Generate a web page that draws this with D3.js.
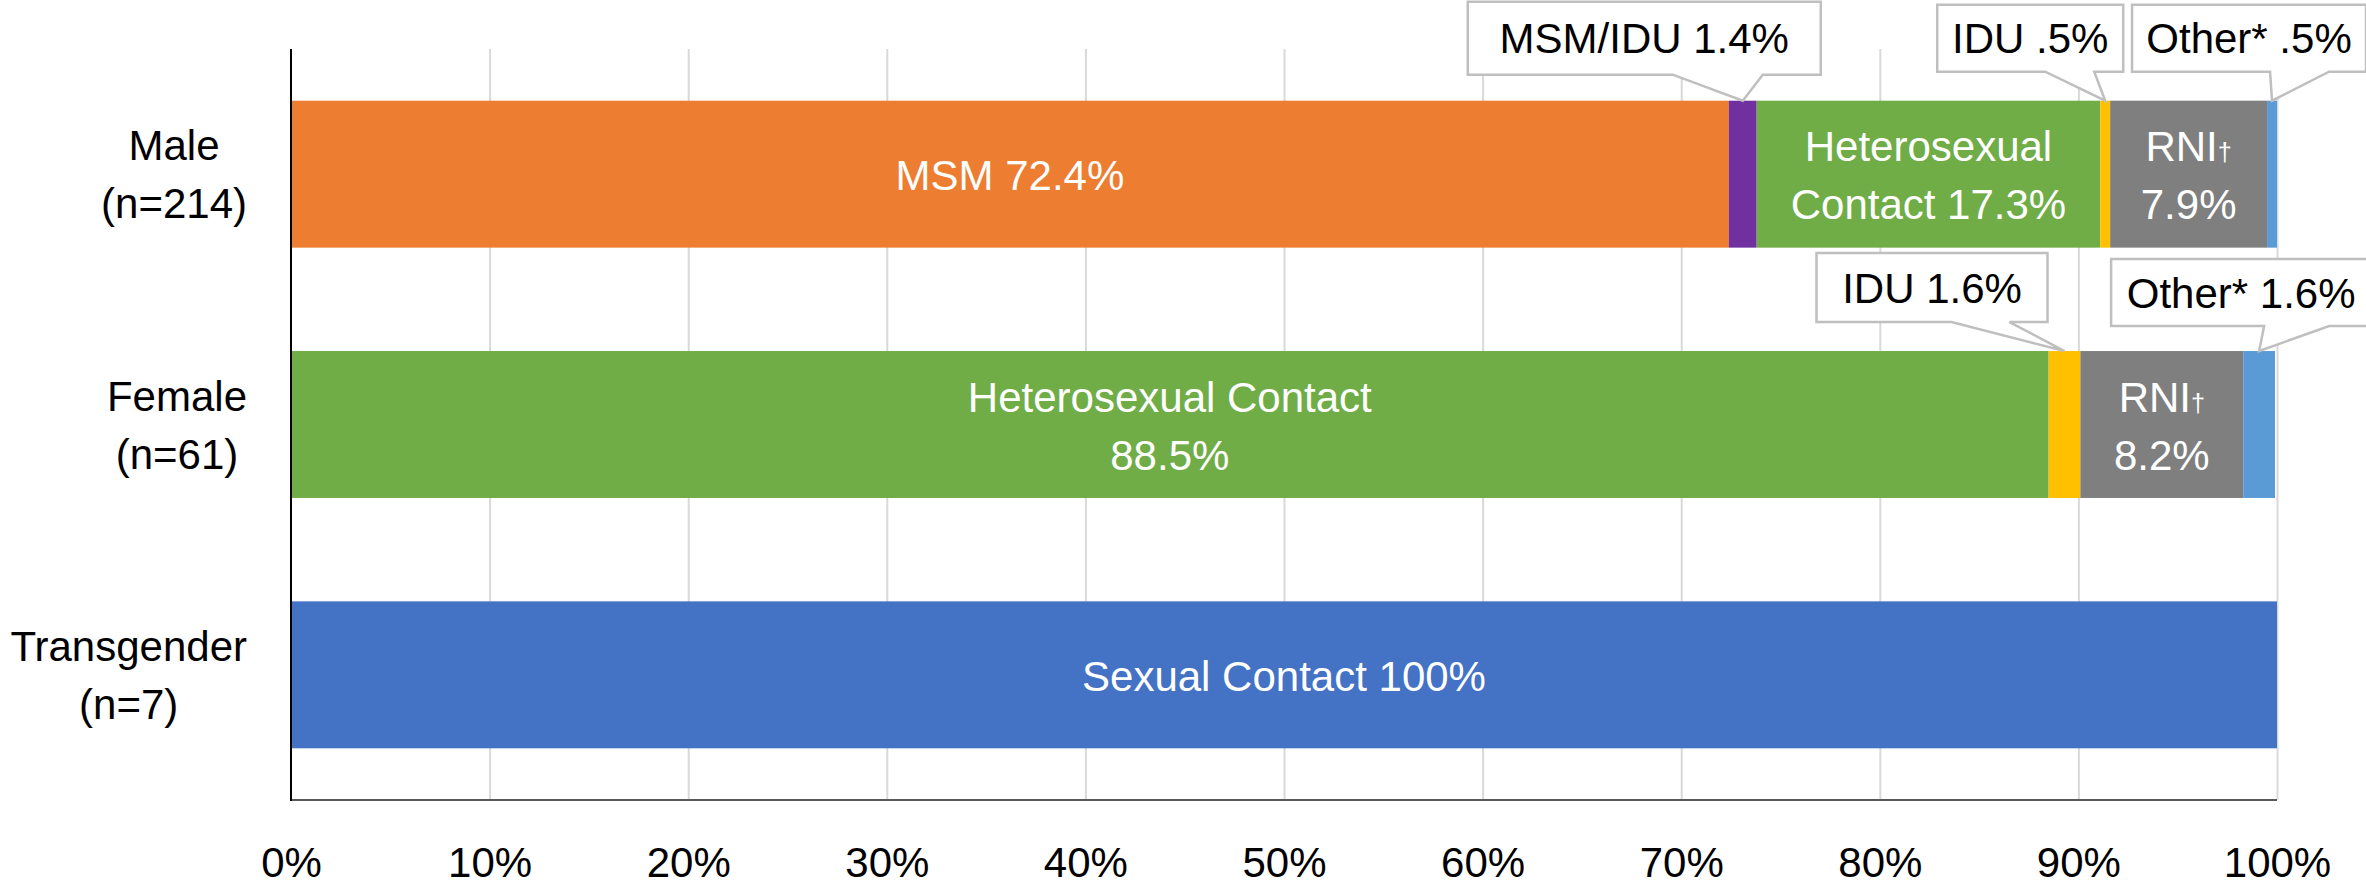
<!DOCTYPE html>
<html>
<head>
<meta charset="utf-8">
<script src="https://cdn.jsdelivr.net/npm/d3@7"></script>
<style>
  body { margin: 0; background: #fff; }
  svg text { font-family: "Liberation Sans", Arial, sans-serif; }
</style>
</head>
<body>
<div class="chart"></div>
<script>
// categories (two lines each) and the stacked pieces for every group
var groups = ["Male", "Female", "Transgender"];
var groupLines = [["Male", "(n=214)"], ["Female", "(n=61)"], ["Transgender", "(n=7)"]];

var maleSeries = ["MSM", "MSM/IDU", "Heterosexual Contact", "IDU", "RNI", "Other*"];
var maleValues = [72.4, 1.4, 17.3, 0.5, 7.9, 0.5];
var maleLabels = [["MSM 72.4%"], "MSM/IDU 1.4%", ["Heterosexual", "Contact 17.3%"], "IDU .5%", ["RNI†", "7.9%"], "Other* .5%"];

var femaleSeries = ["Heterosexual Contact", "IDU", "RNI", "Other*"];
var femaleValues = [88.5, 1.6, 8.2, 1.6];
var femaleLabels = [["Heterosexual Contact", "88.5%"], "IDU 1.6%", ["RNI†", "8.2%"], "Other* 1.6%"];

var transSeries = ["Sexual Contact"];
var transValues = [100];
var transLabels = [["Sexual Contact 100%"]];

var xTicks = [0, 10, 20, 30, 40, 50, 60, 70, 80, 90, 100];

// styling only
var colors = {
  "MSM": "#ED7D31",
  "MSM/IDU": "#7030A0",
  "Heterosexual Contact": "#70AD47",
  "IDU": "#FFC000",
  "RNI": "#7F7F7F",
  "Other*": "#5B9BD5",
  "Sexual Contact": "#4472C4"
};

// callout boxes, offsets in px from the pointer tip (bl/br box edges, bt/bb box top/bottom, w1/w2 wedge base)
var calloutLayout = {
  "Male|MSM/IDU": {bl: -275, br: 78, bt: -99, bb: -26, w1: -70, w2: 20},
  "Male|IDU": {bl: -168, br: 18, bt: -96, bb: -29, w1: -60, w2: -11},
  "Male|Other*": {bl: -140, br: 94, bt: -96, bb: -29, w1: -2, w2: 57},
  "Female|IDU": {bl: -248, br: -17, bt: -98, bb: -29, w1: -113, w2: -55},
  "Female|Other*": {bl: -148, br: 112, bt: -92, bb: -25, w1: 5, w2: 70}
};

var width = 2366, height = 887;
var fontSize = 42, lineGap = 58;

var svg = d3.select(".chart").append("svg")
  .attr("width", width)
  .attr("height", height);

var x = d3.scaleLinear().domain([0, 100]).range([291, 2277]);
var y = d3.scaleBand().domain(groups).range([49, 800])
  .paddingInner(0.413).paddingOuter(0.2065);

// gridlines
svg.append("g")
  .attr("transform", "translate(0,800)")
  .call(d3.axisBottom(x).tickValues(xTicks.slice(1)).tickSize(-(800 - 49)).tickFormat(""))
  .call(function(g) {
    g.select(".domain").remove();
    g.selectAll("line").attr("stroke", "#d9d9d9").attr("stroke-width", 2);
  });

// tick labels
svg.append("g")
  .attr("transform", "translate(0,800)")
  .call(d3.axisBottom(x).tickValues(xTicks).tickSize(0).tickFormat(function(d) { return d + "%"; }))
  .call(function(g) {
    g.select(".domain").remove();
    g.selectAll("text")
      .attr("y", 77).attr("dy", null)
      .attr("font-size", fontSize)
      .attr("font-family", "Liberation Sans, Arial, sans-serif")
      .attr("fill", "#000");
  });

// build stacked pieces
var rows = [
  {group: "Male", series: maleSeries, values: maleValues, labels: maleLabels},
  {group: "Female", series: femaleSeries, values: femaleValues, labels: femaleLabels},
  {group: "Transgender", series: transSeries, values: transValues, labels: transLabels}
];
var pieces = [];
rows.forEach(function(r) {
  var start = 0;
  r.values.forEach(function(v, i) {
    pieces.push({group: r.group, name: r.series[i], x0: start, x1: start + v, label: r.labels[i]});
    start += v;
  });
});

svg.append("g").selectAll("rect")
  .data(pieces)
  .enter().append("rect")
  .attr("x", function(d) { return x(d.x0); })
  .attr("y", function(d) { return y(d.group); })
  .attr("width", function(d) { return x(d.x1) - x(d.x0); })
  .attr("height", y.bandwidth())
  .attr("fill", function(d) { return colors[d.name]; });

// write a line, shrinking the dagger mark
function addLine(t, str) {
  var parts = str.split("†");
  t.append("tspan").text(parts[0]);
  if (parts.length > 1) {
    t.append("tspan").attr("font-size", fontSize * 0.6).text("†");
  }
}

// labels inside bars
var inside = pieces.filter(function(d) { return Array.isArray(d.label); });
inside.forEach(function(d) {
  var cx = x((d.x0 + d.x1) / 2);
  var cy = y(d.group) + y.bandwidth() / 2;
  var n = d.label.length;
  d.label.forEach(function(line, i) {
    var t = svg.append("text")
      .attr("x", cx)
      .attr("y", cy + (i - (n - 1) / 2) * lineGap + 16)
      .attr("text-anchor", "middle")
      .attr("font-size", fontSize)
      .attr("fill", "#fff");
    addLine(t, line);
  });
});

// callouts
var callouts = pieces.filter(function(d) { return typeof d.label === "string"; });
callouts.forEach(function(d) {
  var c = calloutLayout[d.group + "|" + d.name];
  var tx = x((d.x0 + d.x1) / 2);
  var ty = y(d.group);
  var l = tx + c.bl, r = tx + c.br, t = ty + c.bt, b = ty + c.bb;
  var p = d3.path();
  p.moveTo(l, t);
  p.lineTo(r, t);
  p.lineTo(r, b);
  p.lineTo(tx + c.w2, b);
  p.lineTo(tx, ty);
  p.lineTo(tx + c.w1, b);
  p.lineTo(l, b);
  p.closePath();
  svg.append("path")
    .attr("d", p.toString())
    .attr("fill", "#fff")
    .attr("stroke", "#bfbfbf")
    .attr("stroke-width", 2.5);
  svg.append("text")
    .attr("x", (l + r) / 2)
    .attr("y", (t + b) / 2 + 15)
    .attr("text-anchor", "middle")
    .attr("font-size", fontSize)
    .attr("fill", "#000")
    .text(d.label);
});

// axis lines
svg.append("line")
  .attr("x1", x(0)).attr("x2", x(100))
  .attr("y1", 800).attr("y2", 800)
  .attr("stroke", "#595959").attr("stroke-width", 2);
svg.append("line")
  .attr("x1", x(0)).attr("x2", x(0))
  .attr("y1", 49).attr("y2", 801)
  .attr("stroke", "#000").attr("stroke-width", 2);

// category labels: each block right-aligned, lines centred inside it
groups.forEach(function(g, gi) {
  var lines = groupLines[gi];
  var cy = y(g) + y.bandwidth() / 2;
  var texts = lines.map(function(line, i) {
    return svg.append("text")
      .attr("y", cy + (i - (lines.length - 1) / 2) * lineGap + 15)
      .attr("text-anchor", "middle")
      .attr("font-size", fontSize)
      .attr("fill", "#000")
      .text(line);
  });
  var maxW = d3.max(texts, function(t) { return t.node().getComputedTextLength(); });
  texts.forEach(function(t) { t.attr("x", 247 - maxW / 2); });
});
</script>
</body>
</html>
